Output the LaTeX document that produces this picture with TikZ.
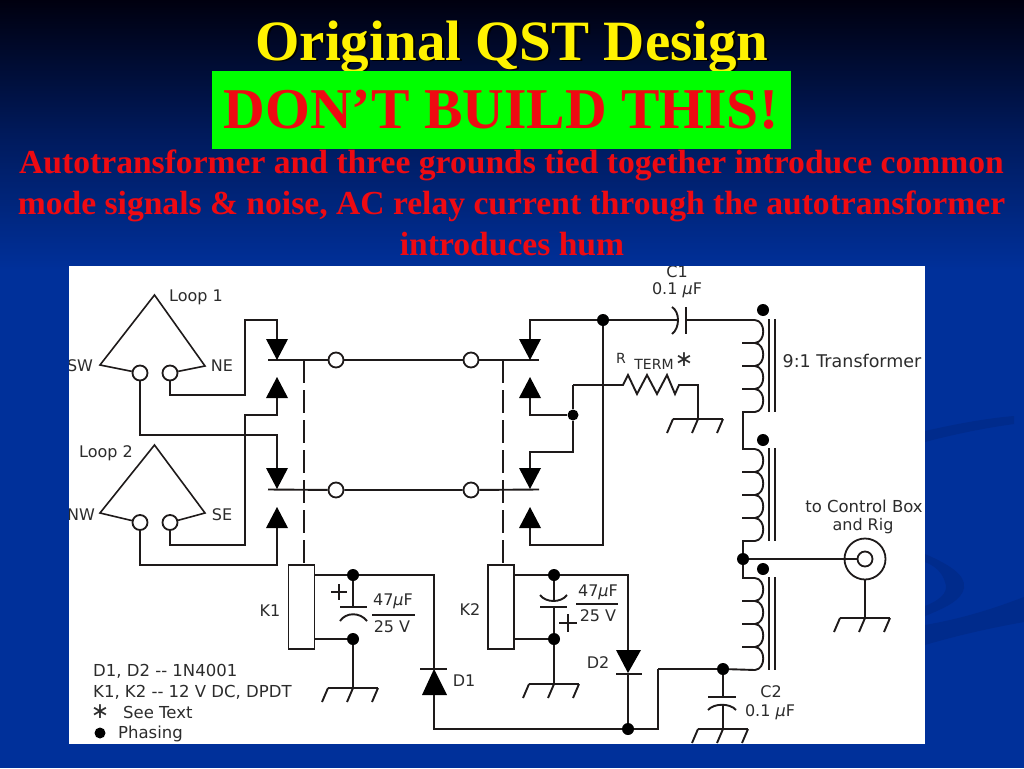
\documentclass[tikz,border=0pt]{standalone}
\usepackage{fontspec}
\setmainfont{Liberation Serif}
\newfontfamily\labfont{DejaVu Sans}
\usetikzlibrary{calc}
\definecolor{bgtop}{HTML}{00000F}
\definecolor{bgmid}{HTML}{001A5C}
\definecolor{bgblue}{HTML}{00309A}
\definecolor{swoosh}{HTML}{002B8C}
\definecolor{ink}{HTML}{1E1A1A}
\definecolor{labink}{HTML}{2C2C2C}
\definecolor{slidegreen}{HTML}{00FF00}
\definecolor{slidered}{HTML}{EE0A12}
\tikzset{
  x=1pt,y=-1pt,
  wire/.style={draw=ink,line width=1.9pt,line join=miter},
  thin wire/.style={draw=ink,line width=1.6pt},
  term/.style={circle,draw=ink,fill=white,line width=1.8pt,inner sep=0pt,minimum size=15pt},
  jdot/.style={circle,fill=black,inner sep=0pt,minimum size=12pt},
  relay/.style={rectangle,draw=ink,fill=white,line width=1.8pt,inner sep=0pt,minimum width=26pt,minimum height=84pt},
  lab/.style={text=labink,font=\labfont\fontsize{16}{17}\selectfont,inner sep=0pt},
  gnd/.pic={
    \draw[wire] (-25,0) -- (25,0);
    \draw[wire] (-25,0) -- (-31,14);
    \draw[wire] (0,0) -- (-6,14);
    \draw[wire] (25,0) -- (19,14);
  },
  darrow/.pic={\fill[black] (-11,0) -- (11,0) -- (0,21) -- cycle;},
  uarrow/.pic={\fill[black] (-11,0) -- (11,0) -- (0,-21) -- cycle;},
  coil/.pic={
    \draw[wire] (0,0) .. controls (11,1) and (11,22) .. (0,23)
                .. controls (11,24) and (11,45) .. (0,46)
                .. controls (11,47) and (11,68) .. (0,69)
                .. controls (11,70) and (11,91) .. (0,92);
    \draw[wire] (-13,23) -- (0,23);
    \draw[wire] (-13,46) -- (0,46);
    \draw[wire] (-13,69) -- (0,69);
    \draw[wire] (14,-1) -- (14,92);
    \draw[wire] (20,-1) -- (20,92);
  },
}
\begin{document}
\begin{tikzpicture}
\useasboundingbox (0,0) rectangle (1024,768);
% background
\fill[bgblue] (0,0) rectangle (1024,768);
\shade[top color=bgtop,bottom color=bgblue,middle color=bgmid] (0,0) rectangle (1024,270);
\fill[swoosh] (925,431) .. controls (960,423) and (990,418) .. (1014,416) -- (1014,424) .. controls (985,428) and (955,434) .. (925,442) -- cycle;
\fill[swoosh] (925,554) .. controls (950,565) and (966,575) .. (964,588) .. controls (962,600) and (945,608) .. (925,616) -- (925,606) .. controls (945,598) and (948,590) .. (945,582) .. controls (942,572) and (935,566) .. (925,562) -- cycle;
\fill[swoosh] (925,625) .. controls (965,618) and (995,608) .. (1024,597) -- (1024,622) .. controls (990,628) and (955,636) .. (925,645) -- cycle;
% slide text
\node[text=black,anchor=base,font=\bfseries\fontsize{57}{57}\selectfont,inner sep=0pt] (titleshadow) at (514,61.5) {Original QST Design};
\node[text=yellow,anchor=base,font=\bfseries\fontsize{57}{57}\selectfont,inner sep=0pt] (title) at (512,60) {Original QST Design};
\node[fill=slidegreen,minimum width=579pt,minimum height=78pt,inner sep=0pt] (banner) at (501.5,110) {};
\node[text=slidered,anchor=base,font=\bfseries\fontsize{57.7}{58}\selectfont,inner sep=0pt] (warn) at (501,128) {DON’T BUILD THIS!};
\node[text=slidered,anchor=base,font=\bfseries\fontsize{33.6}{34}\selectfont,inner sep=0pt] (line1) at (511.5,173) {Autotransformer and three grounds tied together introduce common};
\node[text=slidered,anchor=base,font=\bfseries\fontsize{33.6}{34}\selectfont,inner sep=0pt] (line2) at (511.5,214) {mode signals \& noise, AC relay current through the autotransformer};
\node[text=slidered,anchor=base,font=\bfseries\fontsize{33.6}{34}\selectfont,inner sep=0pt] (line3) at (512,255) {introduces hum};
% panel
\fill[white] (69,266) rectangle (925,744);
\begin{scope}
\clip (69,266) rectangle (925,744);
% named points
\coordinate (L1apex) at (154.5,295);
\coordinate (L1l) at (100,365);
\coordinate (L1r) at (205,366);
\coordinate (L2apex) at (154.5,445);
\coordinate (L2l) at (100,513);
\coordinate (L2r) at (205,513);
\coordinate (a1) at (277,339);
\coordinate (a2) at (277,468);
\coordinate (a3) at (277,398);
\coordinate (a4) at (277,528);
\coordinate (b1) at (530,339);
\coordinate (b2) at (530,468);
\coordinate (b3) at (530,398);
\coordinate (b4) at (530,528);
\coordinate (n1a) at (245,395);
\coordinate (n1b) at (245,320);
\coordinate (n2) at (140,435);
\coordinate (n3a) at (245,415);
\coordinate (n3b) at (245,545);
\coordinate (n4) at (140,565);
\coordinate (m1) at (530,320);
\coordinate (m2) at (573,452);
\coordinate (m3) at (573,385);
\coordinate (m4) at (603,545);
\coordinate (rs) at (623,385);
\coordinate (re) at (679,385);
\coordinate (rg) at (698,385);
\coordinate (g1) at (698,419);
\coordinate (g2) at (353,688);
\coordinate (g3) at (554,684);
\coordinate (g4) at (723,729);
\coordinate (g5) at (865,618);
\coordinate (k1a) at (315,575);
\coordinate (k1b) at (315,639);
\coordinate (k2a) at (514,575);
\coordinate (k2b) at (514,639);
\coordinate (d1t) at (434,575);
\coordinate (d1b) at (434,729);
\coordinate (d2t) at (628,575);
\coordinate (w1) at (658,729);
\coordinate (w2) at (658,669);
\coordinate (cL) at (268,360);
\coordinate (cLb) at (268,489.5);
\coordinate (cR) at (539,360);
\coordinate (cRb) at (539,489.5);
\coordinate (tc1) at (755,320);
\coordinate (tc2) at (755,449);
\coordinate (tc3) at (755,578);
\coordinate (c1l) at (678,320);
\coordinate (c1r) at (686,320);
% nodes
\node[term] (L1sw) at (140,373) {};
\node[term] (L1ne) at (170,373) {};
\node[term] (L2sw) at (140,522.5) {};
\node[term] (L2ne) at (170,522.5) {};
\node[relay] (K1) at (301.5,607) {};
\node[relay] (K2) at (501,607) {};
\coordinate (dash1) at (304,360);
\coordinate (dash1e) at (304,565);
\coordinate (dash2) at (503,360);
\coordinate (dash2e) at (503,565);
% wires under the terminals
\draw[thin wire] (L1sw) -- (L1l) -- (L1apex) -- (L1r) -- (L1ne);
\draw[thin wire] (L2sw) -- (L2l) -- (L2apex) -- (L2r) -- (L2ne);
\draw[wire] (L1ne.south) |- (n1a) -- (n1b) -| (a1);
\draw[wire] (L1sw.south) -- (n2) -| (a2);
\draw[wire] (a3) |- (n3a) -- (n3b) -| (L2ne.south);
\draw[wire] (a4) |- (n4) -- (L2sw.south);
\draw[wire,dash pattern=on 23pt off 7pt] (dash1) -- (dash1e);
\draw[wire,dash pattern=on 23pt off 7pt] (dash2) -- (dash2e);
\node[term] (T1) at (336,360) {};
\node[term] (T2) at (471,360) {};
\node[term] (T3) at (336,490) {};
\node[term] (T4) at (471,490) {};
\draw[wire] (cL) -- (T1) -- (T2) -- (cR);
\draw[wire] (cLb) -- (T3) -- (T4) -- (cRb);
% right contacts
\node[jdot] (J1) at (603,320) {};
\node[jdot,minimum size=11pt] (J2) at (573,415) {};
\draw[wire] (b1) -- (m1) -- (J1) -- (c1l);
\draw[wire] (J1) -- (m4) -| (b4);
\draw[wire] (b3) |- (J2);
\draw[wire] (m3) -- (J2) -- (m2) -| (b2);
\draw[wire] (m3) -- (rs) -- (628,375) -- (637,394) -- (647,375) -- (657,394) -- (667,375) -- (675,394) -- (re) -- (rg) -- (g1);
\pic at (g1) {gnd};
% C1
\draw[wire] (672,307) .. controls (680,312) and (680,328) .. (672,334);
\draw[wire] (685.7,307) -- (685.7,334);
\draw[wire] (c1r) -- (tc1);
% arrows
\pic at (a1) {darrow};
\pic at (a2) {darrow};
\pic at (a3) {uarrow};
\pic at (a4) {uarrow};
\pic at (b1) {darrow};
\pic at (b2) {darrow};
\pic at (b3) {uarrow};
\pic at (b4) {uarrow};
% K1 circuit
\node[jdot] (J3) at (353,575) {};
\node[jdot] (J4) at (353,639) {};
\draw[wire] (k1a) -- (J3) -- (d1t) -- (434,669);
\draw[wire] (k1b) -- (J4) -- (g2);
\draw[wire] (J3) -- (353,607);
\draw[wire] (340,607) -- (367,607);
\draw[wire] (340,621) .. controls (346,612) and (360,612) .. (367,621);
\pic at (g2) {gnd};
\draw[wire,line width=2.2pt] (331,592) -- (347,592);
\draw[wire,line width=2.2pt] (339,584) -- (339,600);
% D1
\fill[black] (434,669) -- (422,695) -- (447,695) -- cycle;
\draw[wire] (420,669) -- (447,669);
\draw[wire] (434,695) -- (d1b) -- (w1) -- (w2);
% K2 circuit
\node[jdot] (J5) at (554,575) {};
\node[jdot] (J6) at (554,639) {};
\draw[wire] (k2a) -- (J5) -- (d2t) -- (628,650);
\draw[wire] (k2b) -- (J6) -- (g3);
\draw[wire] (J5) -- (554,601);
\draw[wire] (540,595) .. controls (546,603) and (561,603) .. (567,595);
\draw[wire] (540,607) -- (567,607);
\draw[wire] (554,607) -- (J6);
\pic at (g3) {gnd};
\draw[wire] (559,623) -- (577,623);
\draw[wire] (568,614) -- (568,632);
% D2
\fill[black] (616,650) -- (641,650) -- (628,673) -- cycle;
\draw[wire] (616,674) -- (642,674);
\node[jdot] (J7) at (628,729) {};
\draw[wire] (628,673) -- (J7);
% transformer
\pic at (tc1) {coil};
\pic at (tc2) {coil};
\pic at (tc3) {coil};
\node[jdot] (P1) at (763,310) {};
\node[jdot] (P2) at (763,440) {};
\node[jdot] (P3) at (763,569) {};
\node[jdot] (J8) at (743,559) {};
\node[jdot] (J9) at (723,669) {};
\draw[wire] (755,412) -- (743,412) -- (743,449) -- (tc2);
\draw[wire] (755,541) -- (743,541) -- (J8) -- (743,578) -- (tc3);
\draw[wire] (w2) -- (J9) -- (755,670);
% C2
\draw[wire] (J9) -- (723,697);
\draw[wire] (708,697) -- (736,697);
\draw[wire] (708,710) .. controls (714,703) and (730,703) .. (736,710);
\draw[wire] (723,705) -- (g4);
\pic at (g4) {gnd};
% coax
\node[term,minimum size=41pt] (coaxo) at (865,559) {};
\node[term] (coaxi) at (865,559) {};
\draw[wire] (J8) -- (coaxi);
\draw[thin wire] (coaxo) -- (g5);
\pic at (g5) {gnd};
% labels
\node[lab] (lp1) at (196,297) {Loop 1};
\node[lab] (lsw) at (80,366) {SW};
\node[lab] (lne) at (222,366) {NE};
\node[lab] (lp2) at (106,453) {Loop 2};
\node[lab] (lnw) at (81,515) {NW};
\node[lab] (lse) at (222,515) {SE};
\node[lab] (lc1) at (677,272) {C1};
\node[lab] (lc1v) at (677,290) {0.1 \textit{µ}F};
\node[lab,font=\labfont\fontsize{14}{14}\selectfont] (lr) at (621,358) {R};
\node[lab,font=\labfont\fontsize{14}{14}\selectfont] (lterm) at (654,364) {TERM};
\node[lab,font=\labfont\fontsize{22}{22}\selectfont] (lstar) at (684,360) {∗};
\node[lab,font=\labfont\fontsize{17.5}{18}\selectfont] (ltr) at (852,361) {9:1 Transformer};
\node[lab,font=\labfont\fontsize{16.5}{17}\selectfont] (lbox) at (864,506) {to Control Box};
\node[lab] (lrig) at (863,526) {and Rig};
\node[lab] (lk1) at (270,611) {K1};
\node[lab] (lk2) at (470,610) {K2};
\node[lab] (l47a) at (393,601) {47\textit{µ}F};
\node[lab] (l25a) at (392,627) {25 V};
\draw[thin wire] (372,615) -- (415,615);
\node[lab] (l47b) at (598,592) {47\textit{µ}F};
\node[lab] (l25b) at (598,616) {25 V};
\draw[thin wire] (576,604) -- (618,604);
\node[lab] (ld1) at (464,681) {D1};
\node[lab] (ld2) at (598,663) {D2};
\node[lab] (lc2) at (771,692) {C2};
\node[lab] (lc2v) at (770,712) {0.1 \textit{µ}F};
\node[lab,anchor=west,font=\labfont\fontsize{16.5}{17}\selectfont] (leg1) at (93,671) {D1, D2 -- 1N4001};
\node[lab,anchor=west,font=\labfont\fontsize{16.5}{17}\selectfont] (leg2) at (93,692) {K1, K2 -- 12 V DC, DPDT};
\node[lab,font=\labfont\fontsize{22}{22}\selectfont] (leg3s) at (100,712) {∗};
\node[lab,anchor=west,font=\labfont\fontsize{16.5}{17}\selectfont] (leg3) at (123,712) {See Text};
\node[jdot,minimum size=11pt] (leg4d) at (100,733) {};
\node[lab,anchor=west,font=\labfont\fontsize{16.5}{17}\selectfont] (leg4) at (118,734) {Phasing};
\end{scope}
\end{tikzpicture}
\end{document}
